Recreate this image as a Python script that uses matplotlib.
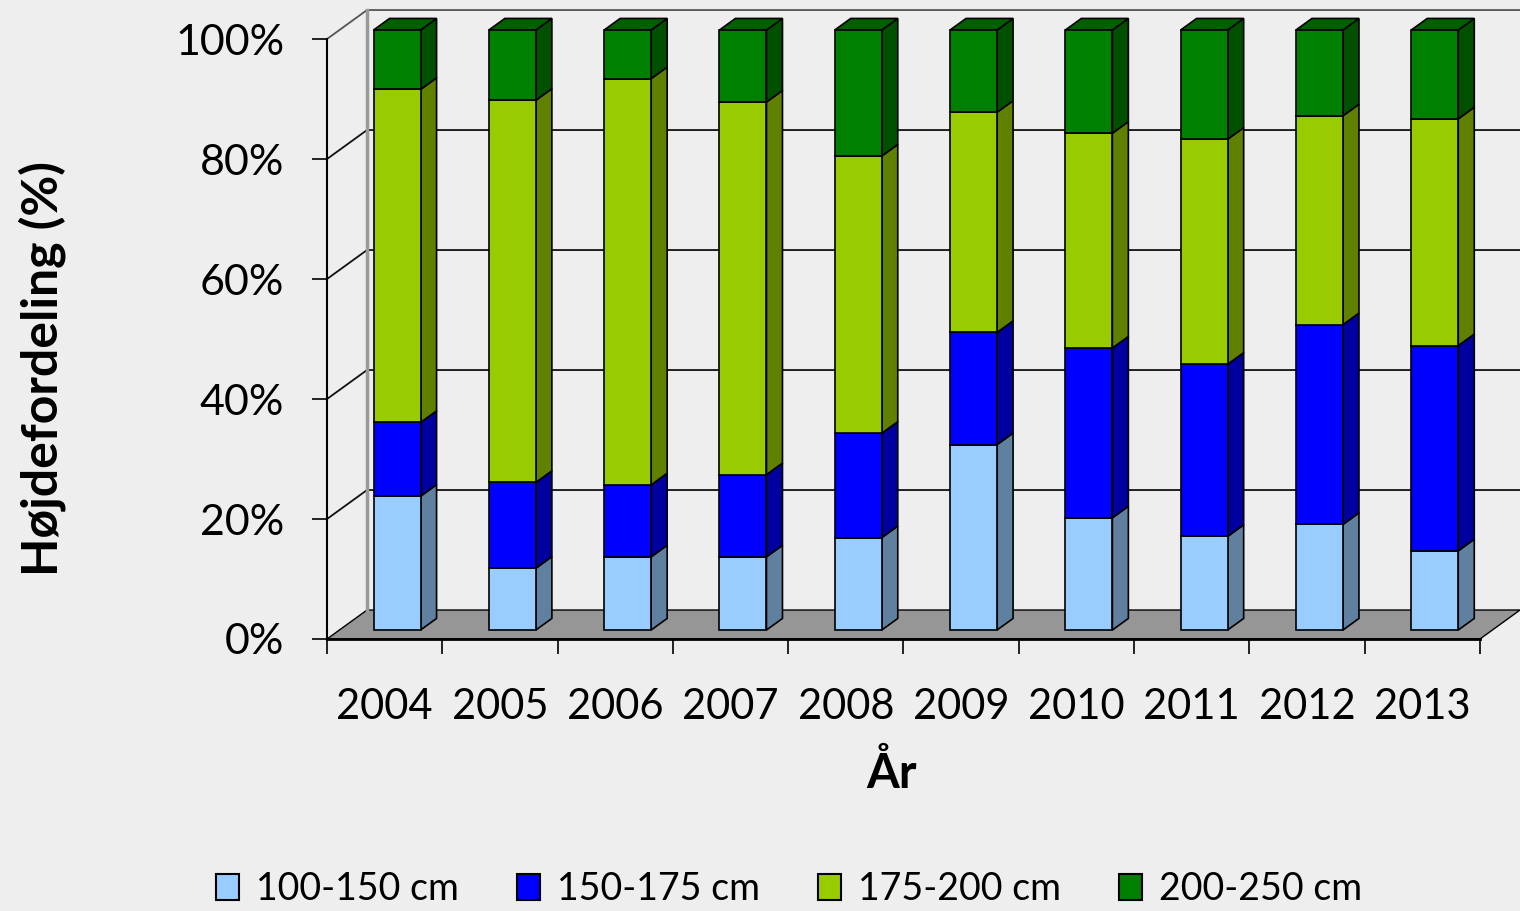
import matplotlib.pyplot as plt
from matplotlib.patches import Polygon, Patch
import numpy as np

# data (percent of each height class per year)
years = ["2004", "2005", "2006", "2007", "2008", "2009", "2010", "2011", "2012", "2013"]
labels = ["100-150 cm", "150-175 cm", "175-200 cm", "200-250 cm"]
h100_150 = [22.3, 10.3, 12.2, 12.2, 15.4, 30.9, 18.7, 15.6, 17.6, 13.2]
h150_175 = [12.3, 14.3, 12.0, 13.7, 17.4, 18.7, 28.3, 28.7, 33.3, 34.2]
h175_200 = [55.5, 63.7, 67.7, 62.1, 46.2, 36.7, 35.8, 37.5, 34.8, 37.8]
h200_250 = [9.9, 11.7, 8.1, 12.0, 21.0, 13.7, 17.2, 18.2, 14.3, 14.8]

face_colors = ["#99CCFF", "#0000FF", "#99CC00", "#008000"]
side_colors = ["#6080A0", "#0000A0", "#608000", "#005000"]
top_color = "#006000"
BG = "#EEEEEE"

plt.rcParams['font.family'] = ['Lato', 'DejaVu Sans']

fig = plt.figure(figsize=(15.2, 9.11), dpi=100, facecolor=BG)
ax = fig.add_axes([327 / 1520, (911 - 639) / 911, (1520 - 327) / 1520, (639 - 5) / 911])
ax.set_facecolor("none")

n = len(years)
x = np.arange(n)
DX = 0.347   # full depth offset, category units
DY = 4.83    # full depth offset, percent units
FD = 0.31    # depth of bar front face
BD = 0.40    # bar depth
BW = 0.408   # bar width

ax.set_xlim(-0.5, n - 0.5 + DX)
ax.set_ylim(0, 105.67)

# floor
floor = Polygon([(-0.5, 0), (n - 0.5, 0), (n - 0.5 + DX, DY), (-0.5 + DX, DY)],
                closed=True, fc="#969696", ec="black", lw=1.0, zorder=1)
ax.add_patch(floor)

# gridlines on side wall and back wall
for v in [20, 40, 60, 80]:
    ax.plot([-0.5, -0.5 + DX, n - 0.5 + DX], [v, v + DY, v + DY], color="#111111", lw=1.3, zorder=1)
ax.plot([-0.5, -0.5 + DX, n - 0.5 + DX], [100, 100 + DY, 100 + DY], color="#555555", lw=1.3, zorder=1)
ax.plot([-0.5 + DX, -0.5 + DX], [DY, 100 + DY], color="#9A9A9A", lw=2.5, zorder=1)

# stacked 3d bars
series = [h100_150, h150_175, h175_200, h200_250]
bottom = np.zeros(n)
for k, vals in enumerate(series):
    vals = np.array(vals)
    xl = x + FD * DX - BW / 2
    xr = xl + BW
    b = bottom + FD * DY
    t = b + vals
    ax.bar(x + FD * DX, vals, bottom=b, width=BW, color=face_colors[k],
           edgecolor="black", lw=1.2, zorder=3)
    for i in range(n):
        side = Polygon([(xr[i], b[i]), (xr[i] + BD * DX, b[i] + BD * DY),
                        (xr[i] + BD * DX, t[i] + BD * DY), (xr[i], t[i])],
                       closed=True, fc=side_colors[k], ec="black", lw=1.2, zorder=2)
        ax.add_patch(side)
        if k == len(series) - 1:
            top = Polygon([(xl[i], t[i]), (xr[i], t[i]), (xr[i] + BD * DX, t[i] + BD * DY),
                           (xl[i] + BD * DX, t[i] + BD * DY)],
                          closed=True, fc=top_color, ec="black", lw=1.2, zorder=2)
            ax.add_patch(top)
    bottom = bottom + vals

# front axes
for s in ["top", "right"]:
    ax.spines[s].set_visible(False)
ax.spines["left"].set_bounds(0, 100)
ax.spines["bottom"].set_bounds(-0.5, n - 0.5)
ax.spines["left"].set_linewidth(1.5)
ax.spines["bottom"].set_linewidth(2.0)
ax.spines["left"].set_zorder(4)
ax.spines["bottom"].set_zorder(4)

ax.set_yticks([0, 20, 40, 60, 80, 100])
ax.set_yticklabels(["0%", "20%", "40%", "60%", "80%", "100%"])
ax.tick_params(axis="y", length=10.8, width=1.2, pad=20, labelsize=31)

ax.set_xticks(np.arange(-0.5, n, 1.0))
ax.set_xticklabels([])
ax.tick_params(axis="x", which="major", length=10.8, width=1.2)
ax.set_xticks(x, minor=True)
ax.set_xticklabels(years, minor=True)
ax.tick_params(axis="x", which="minor", length=0, pad=35, labelsize=30)

fig.text(42 / 1520, 1 - 368 / 911, "Højdefordeling (%)", rotation=90, fontsize=36,
         fontweight="bold", ha="center", va="center")
fig.text(892 / 1520, 1 - 773 / 911, "År", fontsize=34, fontweight="bold",
         ha="center", va="center")

handles = [Patch(fc=c, ec="black", lw=1.5) for c in face_colors]
fig.legend(handles, labels, loc="center", bbox_to_anchor=(789 / 1520, 1 - 889 / 911), ncol=4,
           frameon=False, fontsize=27, handlelength=0.62, handleheight=0.68,
           handletextpad=0.45, columnspacing=1.55)

fig.savefig("out.png", dpi=100, facecolor=BG)
